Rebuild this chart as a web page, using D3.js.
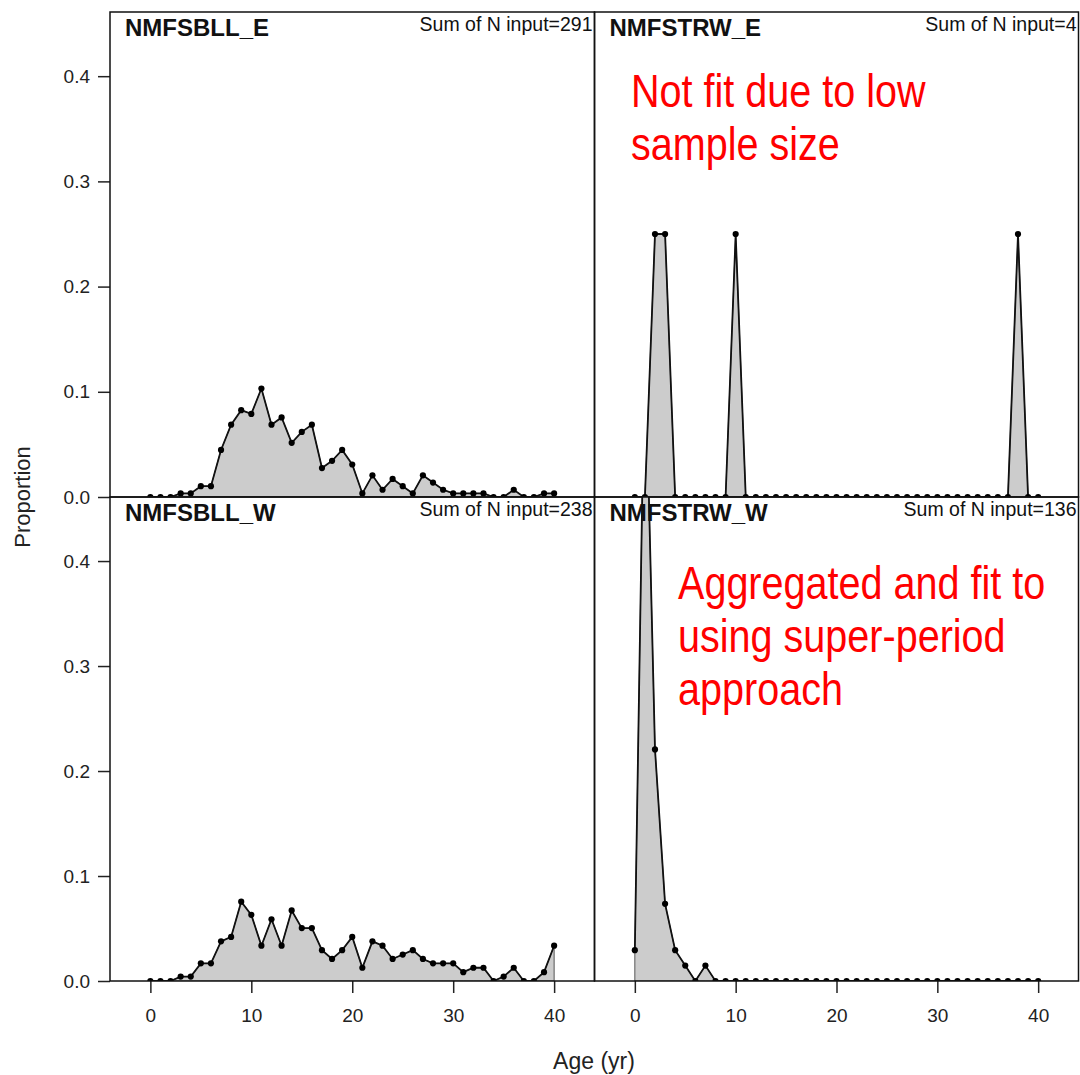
<!DOCTYPE html>
<html>
<head>
<meta charset="utf-8">
<script src="https://cdn.jsdelivr.net/npm/d3@7"></script>
<style>
  body { margin: 0; background: #fff; }
  svg text { font-family: "Liberation Sans", Arial, sans-serif; }
</style>
</head>
<body>
<svg id="chart" width="1080" height="1075"></svg>
<script>
// ages (x categories)
var ages = [0,1,2,3,4,5,6,7,8,9,10,11,12,13,14,15,16,17,18,19,20,
            21,22,23,24,25,26,27,28,29,30,31,32,33,34,35,36,37,38,39,40];

// proportions
var bllE = [0,0,0,0.0034,0.0034,0.0103,0.0103,0.0447,0.0687,0.0825,0.0790,0.1031,0.0687,0.0756,
            0.0515,0.0619,0.0687,0.0275,0.0344,0.0447,0.0309,0.0034,0.0206,0.0069,0.0172,0.0103,
            0.0034,0.0206,0.0137,0.0069,0.0034,0.0034,0.0034,0.0034,0,0,0.0069,0,0,0.0034,0.0034];
var trwE = [0,0,0.25,0.25,0,0,0,0,0,0,0.25,0,0,0,0,0,0,0,0,0,0,
            0,0,0,0,0,0,0,0,0,0,0,0,0,0,0,0,0,0.25,0,0];
var bllW = [0,0,0,0.0042,0.0042,0.0168,0.0168,0.0378,0.0420,0.0756,0.0630,0.0336,0.0588,0.0336,
            0.0672,0.0504,0.0504,0.0294,0.0210,0.0294,0.0420,0.0126,0.0378,0.0336,0.0210,0.0252,
            0.0294,0.0210,0.0168,0.0168,0.0168,0.0084,0.0126,0.0126,0,0.0042,0.0126,0,0,0.0084,0.0336];
var trwW = [0.0294,0.6176,0.2206,0.0735,0.0294,0.0147,0,0.0147,0,0,0,0,0,0,0,0,0,0,0,0,0,
            0,0,0,0,0,0,0,0,0,0,0,0,0,0,0,0,0,0,0,0];

var fleetNames = ["NMFSBLL_E", "NMFSTRW_E", "NMFSBLL_W", "NMFSTRW_W"];
var sumN = [291, 4, 238, 136];
var fleetData = [bllE, trwE, bllW, trwW];

var xTicks = [0, 10, 20, 30, 40];
var yTicks = [0, 0.1, 0.2, 0.3, 0.4];

var notes = [
  {panel: 1, lines: ["Not fit due to low", "sample size"]},
  {panel: 3, lines: ["Aggregated and fit to", "using super-period", "approach"]}
];

var svg = d3.select('#chart');

// panel layout
var cols = [[110, 594.5], [594.5, 1078.5]];
var rows = [[12, 497], [497, 981]];

var defs = svg.append('defs');

fleetNames.forEach(function(name, i) {
  var c = cols[i % 2], r = rows[Math.floor(i / 2)];

  var x = d3.scaleLinear().domain([-4, 44]).range([c[0], c[1]]);
  var y = d3.scaleLinear().domain([0, 0.461]).range([r[1], r[0]]);

  defs.append('clipPath').attr('id', 'clip' + i)
    .append('rect')
      .attr('x', c[0]).attr('y', r[0])
      .attr('width', c[1] - c[0]).attr('height', r[1] - r[0]);

  var g = svg.append('g').attr('clip-path', 'url(#clip' + i + ')');
  var pts = ages.map(function(a, j) { return [a, fleetData[i][j]]; });

  var area = d3.area()
    .x(function(d) { return x(d[0]); })
    .y0(y(0))
    .y1(function(d) { return y(d[1]); });

  var line = d3.line()
    .x(function(d) { return x(d[0]); })
    .y(function(d) { return y(d[1]); });

  g.append('path')
    .attr('d', area(pts))
    .style('fill', '#cccccc')
    .style('stroke', '#555')
    .style('stroke-width', 1);

  g.append('path')
    .attr('d', line(pts))
    .style('fill', 'none')
    .style('stroke', '#111')
    .style('stroke-width', 1.8);

  g.selectAll('.dot')
    .data(pts)
    .enter().append('circle')
      .attr('class', 'dot')
      .attr('cx', function(d) { return x(d[0]); })
      .attr('cy', function(d) { return y(d[1]); })
      .attr('r', 3.1)
      .style('fill', '#000');

  // panel titles
  svg.append('text')
    .attr('x', c[0] + 15).attr('y', r[0] + 24)
    .style('font-size', '24px').style('font-weight', 'bold')
    .style('fill', '#111')
    .text(name);

  svg.append('text')
    .attr('x', c[1] - 2).attr('y', r[0] + 19)
    .attr('text-anchor', 'end')
    .style('font-size', '19.5px')
    .style('fill', '#111')
    .text('Sum of N input=' + sumN[i]);

  // y axis on left column
  if (i % 2 === 0) {
    var yAxis = d3.axisLeft(y).tickValues(yTicks).tickSize(12).tickPadding(8)
      .tickFormat(d3.format('.1f'));
    var ga = svg.append('g')
      .attr('transform', 'translate(' + c[0] + ',0)')
      .call(yAxis);
    ga.select('.domain').remove();
    ga.selectAll('line').style('stroke', '#222').style('stroke-width', 1.5);
    ga.selectAll('text').style('font-size', '19px').style('fill', '#222')
      .attr('font-family', null);
  }

  // x axis on bottom row
  if (i >= 2) {
    var xAxis = d3.axisBottom(x).tickValues(xTicks).tickSize(12).tickPadding(16);
    var gx = svg.append('g')
      .attr('transform', 'translate(0,' + r[1] + ')')
      .call(xAxis);
    gx.select('.domain').remove();
    gx.selectAll('line').style('stroke', '#222').style('stroke-width', 1.5);
    gx.selectAll('text').style('font-size', '19px').style('fill', '#222')
      .attr('font-family', null);
  }

  // panel frame
  svg.append('rect')
    .attr('x', c[0]).attr('y', r[0])
    .attr('width', c[1] - c[0]).attr('height', r[1] - r[0])
    .style('fill', 'none')
    .style('stroke', '#111')
    .style('stroke-width', 1.5);
});

// axis titles
svg.append('text')
  .attr('x', 594).attr('y', 1069)
  .attr('text-anchor', 'middle')
  .style('font-size', '23px').style('fill', '#222')
  .text('Age (yr)');

svg.append('text')
  .attr('transform', 'translate(30,497) rotate(-90)')
  .attr('text-anchor', 'middle')
  .style('font-size', '22px').style('fill', '#222')
  .text('Proportion');

// red annotations
var notePos = {1: {x: 631, y: 107}, 3: {x: 678, y: 599}};
notes.forEach(function(n) {
  var p = notePos[n.panel];
  var t = svg.append('g')
    .attr('transform', 'translate(' + p.x + ',' + p.y + ') scale(0.86,1)');
  n.lines.forEach(function(s, k) {
    t.append('text')
      .attr('x', 0).attr('y', k * 53)
      .style('font-size', '46px')
      .style('fill', '#ff0000')
      .text(s);
  });
});
</script>
</body>
</html>
